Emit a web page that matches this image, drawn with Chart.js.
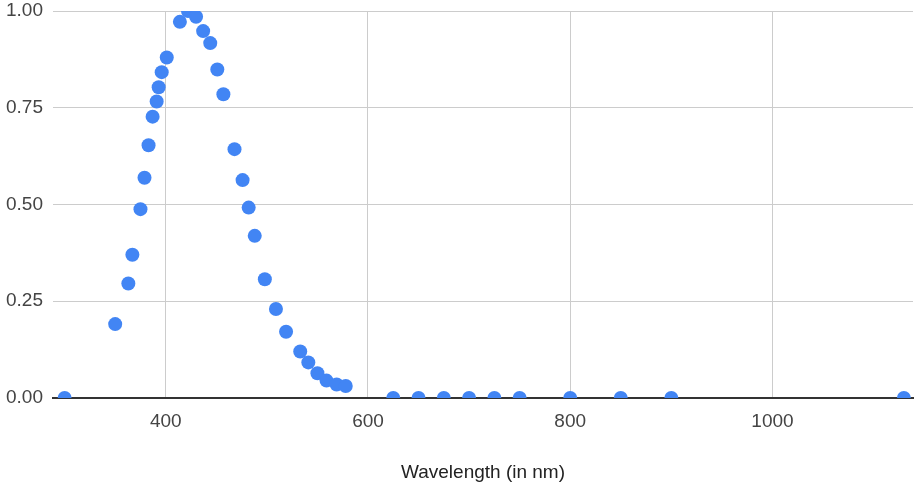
<!DOCTYPE html>
<html>
<head>
<meta charset="utf-8">
<script src="https://cdn.jsdelivr.net/npm/chart.js@4"></script>
<style>
  html, body { margin: 0; padding: 0; background: #fff; }
  #wrap { width: 920px; height: 485px; position: relative; }
</style>
</head>
<body>
<div id="wrap"><canvas id="spectrumChart"></canvas></div>
<script>
// Wellenlängen (nm) und normierte Intensität
var wavelengths = [300, 350, 363, 367, 375, 379, 383, 387, 391, 393, 396, 401,
                   414, 422, 430, 437, 444, 451, 457, 468, 476, 482, 488, 498,
                   509, 519, 533, 541, 550, 559, 569, 578,
                   625, 650, 675, 700, 725, 750, 800, 850, 900, 1130];
var intensity = [0, 0.191, 0.296, 0.370, 0.488, 0.569, 0.653, 0.727, 0.766, 0.803, 0.842, 0.880,
                 0.972, 1.0, 0.985, 0.948, 0.917, 0.849, 0.785, 0.643, 0.563, 0.492, 0.419, 0.307,
                 0.230, 0.171, 0.120, 0.092, 0.064, 0.045, 0.035, 0.031,
                 0, 0, 0, 0, 0, 0, 0, 0, 0, 0];

// Achsenbeschriftung
var xTicks = [400, 600, 800, 1000];
var yTicks = [0, 0.25, 0.5, 0.75, 1.0];
var xTitle = 'Wavelength (in nm)';

var points = wavelengths.map(function(w, i) { return { x: w, y: intensity[i] }; });

var font = { family: '"Liberation Sans", Arial, sans-serif', size: 19 };

var ctx = document.getElementById('spectrumChart').getContext('2d');
var chart = new Chart(ctx, {
    type: 'scatter',
    data: {
        datasets: [{
            data: points,
            backgroundColor: '#4285F4',
            borderWidth: 0,
            pointRadius: 7,
            pointHoverRadius: 7,
            clip: 0
        }]
    },
    options: {
        responsive: true,
        maintainAspectRatio: false,
        animation: false,
        events: [],
        layout: { padding: { top: 11, right: 6, left: 0, bottom: 0 } },
        plugins: {
            legend: { display: false },
            tooltip: { enabled: false }
        },
        scales: {
            x: {
                type: 'linear',
                min: 288.5,
                max: 1139,
                afterBuildTicks: function(axis) {
                    axis.ticks = xTicks.map(function(v) { return { value: v }; });
                },
                afterFit: function(axis) {
                    axis.height = 87;
                    axis.paddingLeft = 0;
                    axis.paddingRight = 0;
                },
                grid: { color: '#cccccc', lineWidth: 1, drawTicks: false },
                border: { display: true, color: '#333333', width: 2 },
                ticks: {
                    color: '#444444',
                    font: font,
                    padding: 12,
                    maxRotation: 0,
                    callback: function(v) { return String(v); }
                },
                title: { display: true, text: xTitle, color: '#222222', font: font,
                         padding: { top: 0, bottom: 1 } }
            },
            y: {
                min: 0,
                max: 1,
                afterBuildTicks: function(axis) {
                    axis.ticks = yTicks.map(function(v) { return { value: v }; });
                },
                afterFit: function(axis) {
                    axis.width = 53;
                    axis.paddingTop = 0;
                    axis.paddingBottom = 0;
                },
                grid: {
                    drawTicks: false,
                    lineWidth: 1,
                    color: function(c) { return c.tick && c.tick.value === 0 ? 'rgba(0,0,0,0)' : '#cccccc'; }
                },
                border: { display: false },
                ticks: {
                    color: '#444444',
                    font: font,
                    padding: 10,
                    callback: function(v) { return Number(v).toFixed(2); }
                }
            }
        }
    }
});
</script>
</body>
</html>
